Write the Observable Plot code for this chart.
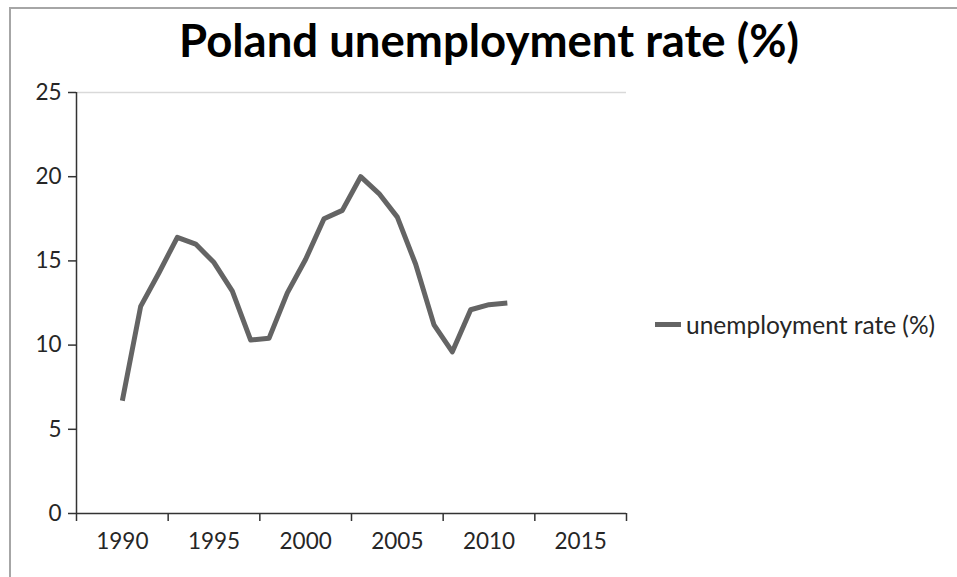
<!DOCTYPE html>
<html>
<head>
<meta charset="utf-8">
<script src="https://cdn.jsdelivr.net/npm/d3@7"></script>
<script src="https://cdn.jsdelivr.net/npm/@observablehq/plot@0.6"></script>
<style>
  html, body { margin: 0; padding: 0; background: #fff; }
  #wrap { position: relative; width: 957px; height: 577px; overflow: hidden; background: #fff; }
  #frame { position: absolute; left: 9px; top: 7px; right: -5px; bottom: -5px; border-top: 2px solid #a6a6a6; border-left: 2px solid #a6a6a6; }
  #title { position: absolute; left: 0; width: 978px; top: 12px; text-align: center; font-family: Lato, "Open Sans", sans-serif; font-weight: 700; font-size: 45.5px; color: #000; white-space: nowrap; }
  #legend { position: absolute; left: 655px; top: 310px; font-family: Lato, "Open Sans", sans-serif; font-size: 24.5px; color: #262626; display: flex; align-items: center; white-space: nowrap; }
  #legend .sw { width: 26px; height: 5px; background: #646464; margin-right: 5px; }
  #chart { position: absolute; left: 0; top: 0; }
</style>
</head>
<body>
<div id="wrap">
  <div id="frame"></div>
  <div id="chart"></div>
  <div id="title">Poland unemployment rate (%)</div>
  <div id="legend"><span class="sw"></span><span id="legendText"></span></div>
</div>
<script>
const seriesName = "unemployment rate (%)";
const years = [1990,1991,1992,1993,1994,1995,1996,1997,1998,1999,2000,2001,2002,2003,2004,2005,2006,2007,2008,2009,2010,2011];
const rates = [6.7,12.3,14.3,16.4,16.0,14.9,13.2,10.3,10.4,13.1,15.1,17.5,18.0,20.0,19.0,17.6,14.8,11.2,9.6,12.1,12.4,12.5];
const xTickLabels = [1990,1995,2000,2005,2010,2015];
const xTickMarks = [1987.5,1992.5,1997.5,2002.5,2007.5,2012.5,2017.5];
const yTicks = [0,5,10,15,20,25];

const data = years.map((yr, i) => ({year: yr, rate: rates[i]}));
document.getElementById("legendText").textContent = seriesName;

const axisColor = "#333333";
const chart = Plot.plot({
  width: 957,
  height: 577,
  marginLeft: 76,
  marginRight: 331,
  marginTop: 92,
  marginBottom: 64,
  style: {fontFamily: "Lato, 'Open Sans', sans-serif", fontSize: "22.5px", color: "#262626", background: "transparent"},
  x: {domain: [1987.5, 2017.5]},
  y: {domain: [0, 25]},
  marks: [
    Plot.ruleY([25], {stroke: "#d9d9d9", strokeWidth: 1.5}),
    Plot.axisY({ticks: yTicks, tickSize: 8, tickPadding: 7, stroke: axisColor, strokeWidth: 1.5, fill: "#262626", label: null}),
    Plot.axisX({ticks: xTickMarks, tickSize: 8, tickFormat: () => "", stroke: axisColor, strokeWidth: 1.5, label: null}),
    Plot.axisX({ticks: xTickLabels, tickSize: 0, tickPadding: 20, tickFormat: d => String(d), fill: "#262626", label: null}),
    Plot.ruleX([1987.5], {stroke: axisColor, strokeWidth: 1.5}),
    Plot.ruleY([0], {stroke: axisColor, strokeWidth: 1.5}),
    Plot.line(data, {x: "year", y: "rate", stroke: "#646464", strokeWidth: 5, strokeLinejoin: "round", strokeLinecap: "butt"})
  ]
});
document.getElementById("chart").appendChild(chart);
</script>
</body>
</html>
